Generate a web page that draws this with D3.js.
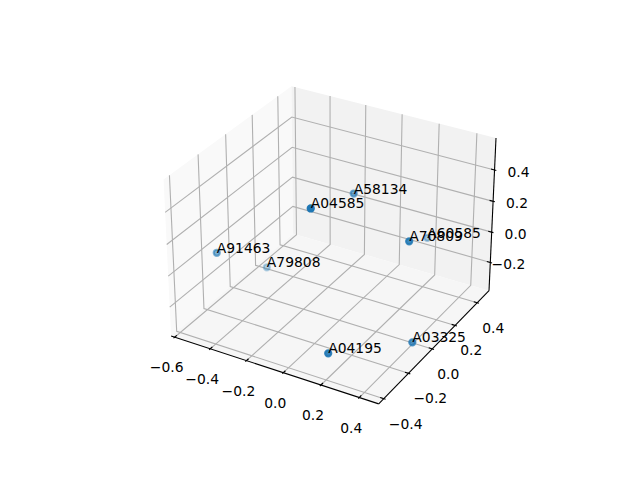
<!DOCTYPE html>
<html>
<head>
<meta charset="utf-8">
<script src="https://cdn.jsdelivr.net/npm/d3@7"></script>
<style>
  body { margin: 0; background: #fff; }
  text { font-family: "DejaVu Sans"; font-size: 13.89px; fill: #000; }
</style>
</head>
<body>
<div id="chart"></div>
<script>
/* D3 3d scatter, same camera as a default mplot3d axes */

const names = ["A04585", "A58134", "A70809", "A60585", "A91463", "A79808", "A04195", "A03325"];
const xs = [0.049, -0.068, 0.372, 0.158, -0.578, -0.541, 0.209, 0.443];
const ys = [-0.293, 0.214, -0.010, 0.502, -0.145, 0.183, -0.397, -0.080];
const zs = [0.545, 0.262, 0.259, -0.148, -0.046, -0.364, -0.218, -0.306];

const xTicks = [-0.6, -0.4, -0.2, 0.0, 0.2, 0.4];
const yTicks = [-0.4, -0.2, 0.0, 0.2, 0.4];
const zTicks = [-0.2, 0.0, 0.2, 0.4];

const xLim = [-0.62, 0.5];
const yLim = [-0.44, 0.51];
const zLim = [-0.39, 0.6];

const width = 640, height = 480;

const svg = d3.select("#chart")
  .append("svg")
  .attr("width", width)
  .attr("height", height)
  .style("display", "block");

// box is 4:4:3, scaled the way matplotlib does it
const boxK = 1.8294640721620434 * 25 / 24 / Math.sqrt(41);
const boxW = 4 * boxK, boxH = 3 * boxK;

const x = d3.scaleLinear().domain(xLim).range([0, boxW]);
const y = d3.scaleLinear().domain(yLim).range([0, boxW]);
const z = d3.scaleLinear().domain(zLim).range([0, boxH]);

// camera
const elev = 30 * Math.PI / 180, azim = -60 * Math.PI / 180, dist = 10;
const w = [Math.cos(elev) * Math.cos(azim), Math.cos(elev) * Math.sin(azim), Math.sin(elev)];
const u = [-Math.sin(azim), Math.cos(azim), 0];
const v = [-Math.sin(elev) * Math.cos(azim), -Math.sin(elev) * Math.sin(azim), Math.cos(elev)];
const dot = (a, b) => a[0] * b[0] + a[1] * b[1] + a[2] * b[2];

// projected coords to pixels
const px = d3.scaleLinear().domain([-0.095, 0.09]).range([143.2, 512.8]);
const py = d3.scaleLinear().domain([-0.095, 0.09]).range([427.2, 57.6]);

// depth toward the camera
function depth(a, b, c) {
  return dot([x(a) - boxW / 2, y(b) - boxW / 2, z(c) - boxH / 2], w);
}

function project(a, b, c) {
  const p = [x(a) - boxW / 2, y(b) - boxW / 2, z(c) - boxH / 2];
  const d = dist - dot(p, w);
  return [px(dot(p, u) / d), py(dot(p, v) / d)];
}

const [x0, x1] = xLim, [y0, y1] = yLim, [z0, z1] = zLim;

const line = d3.line();
const path3d = pts => line(pts.map(p => project(p[0], p[1], p[2])));

// panes
const panes = [
  { fill: "#f9f9f9", pts: [[x0, y0, z0], [x0, y1, z0], [x0, y1, z1], [x0, y0, z1]] },
  { fill: "#f2f2f2", pts: [[x0, y1, z0], [x1, y1, z0], [x1, y1, z1], [x0, y1, z1]] },
  { fill: "#f6f6f6", pts: [[x0, y0, z0], [x1, y0, z0], [x1, y1, z0], [x0, y1, z0]] }
];
svg.append("g").selectAll("path")
  .data(panes)
  .join("path")
  .attr("d", d => path3d(d.pts) + "Z")
  .attr("fill", d => d.fill);

// gridlines
const grid = [
  ...xTicks.map(t => [[t, y0, z0], [t, y1, z0], [t, y1, z1]]),
  ...yTicks.map(t => [[x1, t, z0], [x0, t, z0], [x0, t, z1]]),
  ...zTicks.map(t => [[x0, y0, t], [x0, y1, t], [x1, y1, t]])
];
svg.append("g").selectAll("path")
  .data(grid)
  .join("path")
  .attr("d", path3d)
  .attr("fill", "none")
  .attr("stroke", "#b0b0b0")
  .attr("stroke-width", 1.1);

// axis lines
const axes = [
  [[x0, y0, z0], [x1, y0, z0]],
  [[x1, y0, z0], [x1, y1, z0]],
  [[x1, y1, z0], [x1, y1, z1]]
];
svg.append("g").selectAll("path")
  .data(axes)
  .join("path")
  .attr("d", path3d)
  .attr("fill", "none")
  .attr("stroke", "#000")
  .attr("stroke-width", 1.1);

// tick marks, 0.2 inward and 0.1 outward of a twelfth of the range
const dy = (yLim[1] - yLim[0]) / 12, dx = (xLim[1] - xLim[0]) / 12;
const tickMarks = [
  ...xTicks.map(t => [[t, y0 + 0.2 * dy, z0], [t, y0 - 0.1 * dy, z0]]),
  ...yTicks.map(t => [[x1 - 0.2 * dx, t, z0], [x1 + 0.1 * dx, t, z0]]),
  ...zTicks.map(t => [[x1 - 0.2 * dx, y1, t], [x1 + 0.1 * dx, y1, t]])
];
svg.append("g").selectAll("path")
  .data(tickMarks)
  .join("path")
  .attr("d", path3d)
  .attr("fill", "none")
  .attr("stroke", "#000")
  .attr("stroke-width", 1.1);

// tick labels
const fmt = d => d3.format(".1f")(d).replace("-", "\u2212");
const tickLabels = [
  ...xTicks.map(t => ({ t, pos: project(t, y0, z0), dx: -8, dy: 35, anchor: "middle" })),
  ...yTicks.map(t => ({ t, pos: project(x1, t, z0), dx: 5, dy: 30, anchor: "start" })),
  ...zTicks.map(t => ({ t, pos: project(x1, y1, t), dx: 35, dy: 7, anchor: "end" }))
];
svg.append("g").selectAll("text")
  .data(tickLabels)
  .join("text")
  .attr("x", d => d.pos[0] + d.dx)
  .attr("y", d => d.pos[1] + d.dy)
  .attr("text-anchor", d => d.anchor)
  .text(d => fmt(d.t));

// points, far ones first and fainter
const data = names.map((name, i) => ({ name, x: xs[i], y: ys[i], z: zs[i], depth: depth(xs[i], ys[i], zs[i]) }));
const alpha = d3.scaleLinear().domain(d3.extent(data, d => d.depth)).range([0.3, 1]);

svg.append("g").selectAll("circle")
  .data(data.slice().sort((a, b) => a.depth - b.depth))
  .join("circle")
  .attr("cx", d => project(d.x, d.y, d.z)[0])
  .attr("cy", d => project(d.x, d.y, d.z)[1])
  .attr("r", 3.1)
  .attr("fill", "#1f77b4")
  .attr("stroke", "#1f77b4")
  .attr("stroke-width", 2.08)
  .attr("fill-opacity", d => alpha(d.depth))
  .attr("stroke-opacity", d => alpha(d.depth));

svg.append("g").selectAll("text")
  .data(data)
  .join("text")
  .attr("x", d => project(d.x, d.y, d.z)[0])
  .attr("y", d => project(d.x, d.y, d.z)[1])
  .text(d => d.name);
</script>
</body>
</html>
